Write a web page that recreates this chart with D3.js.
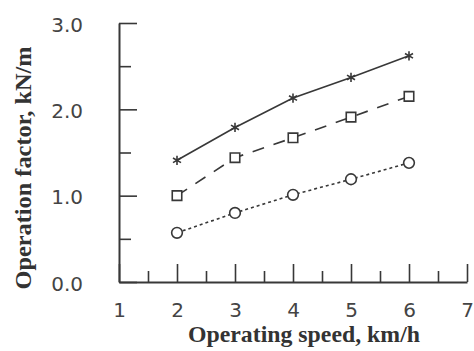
<!DOCTYPE html>
<html>
<head>
<meta charset="utf-8">
<script src="https://cdn.jsdelivr.net/npm/d3@7"></script>
<style>
  html, body { margin: 0; padding: 0; background: #fff; }
  #chart { width: 474px; height: 351px; }
</style>
</head>
<body>
<div id="chart"></div>
<script>
// values
const speeds = [2, 3, 4, 5, 6];
const starVals = [1.41, 1.79, 2.13, 2.37, 2.62];
const squareVals = [1.00, 1.44, 1.67, 1.91, 2.15];
const circleVals = [0.57, 0.80, 1.01, 1.19, 1.38];

const xMajor = [1, 2, 3, 4, 5, 6, 7];
const xMinor = [1.5, 2.5, 3.5, 4.5, 5.5, 6.5];
const yMajor = [0, 1, 2, 3];
const yMinor = [0.5, 1.5, 2.5];

const xTitle = 'Operating speed, km/h';
const yTitle = 'Operation factor, kN/m';

(function() {
  const width = 474;
  const height = 351;
  const ink = '#383838';

  const svg = d3.select('#chart')
    .append('svg')
    .attr('width', width)
    .attr('height', height);

  svg.append('rect')
    .attr('width', width)
    .attr('height', height)
    .attr('fill', '#fff');

  const x = d3.scaleLinear().domain([1, 7]).range([119, 467]);
  const y = d3.scaleLinear().domain([0, 3]).range([282, 23]);

  // axes, ticks pointing inward
  const gx = svg.append('g').attr('transform', `translate(0,${y(0)})`);
  gx.call(d3.axisBottom(x).tickValues(xMajor).tickSize(-18).tickSizeOuter(0)
    .tickPadding(21).tickFormat(d3.format('d')));
  const gxm = svg.append('g').attr('transform', `translate(0,${y(0)})`);
  gxm.call(d3.axisBottom(x).tickValues(xMinor).tickSize(-11).tickSizeOuter(0).tickFormat(''));

  const gy = svg.append('g').attr('transform', `translate(${x(1)},0)`);
  gy.call(d3.axisLeft(y).tickValues(yMajor).tickSize(-18).tickSizeOuter(0)
    .tickPadding(36).tickFormat(d3.format('.1f')));
  const gym = svg.append('g').attr('transform', `translate(${x(1)},0)`);
  gym.call(d3.axisLeft(y).tickValues(yMinor).tickSize(-12).tickSizeOuter(0).tickFormat(''));

  svg.selectAll('.domain').attr('stroke', ink).attr('stroke-width', 2);
  gxm.select('.domain').remove();
  gym.select('.domain').remove();
  svg.selectAll('.tick line').attr('stroke', ink).attr('stroke-width', 1.6);
  svg.selectAll('.tick text')
    .attr('font-family', 'DejaVu Sans, sans-serif')
    .attr('font-size', '20px')
    .attr('fill', '#444');
  gy.selectAll('.tick text').attr('dy', '0.4em');

  // axis titles
  svg.append('text')
    .attr('x', 304)
    .attr('y', 342)
    .attr('text-anchor', 'middle')
    .attr('font-family', 'Liberation Serif, serif')
    .attr('font-weight', 'bold')
    .attr('font-size', '23px')
    .attr('fill', '#333')
    .attr('textLength', 232)
    .attr('lengthAdjust', 'spacingAndGlyphs')
    .text(xTitle);

  svg.append('text')
    .attr('transform', 'translate(31,168) rotate(-90)')
    .attr('text-anchor', 'middle')
    .attr('font-family', 'Liberation Serif, serif')
    .attr('font-weight', 'bold')
    .attr('font-size', '23px')
    .attr('fill', '#333')
    .attr('textLength', 243)
    .attr('lengthAdjust', 'spacingAndGlyphs')
    .text(yTitle);

  const series = [
    { vals: starVals, dash: null, symbol: d3.symbolAsterisk, size: 60, fill: 'none' },
    { vals: squareVals, dash: '12,10', symbol: d3.symbolSquare, size: 90, fill: '#fff' },
    { vals: circleVals, dash: '3,3', symbol: d3.symbolCircle, size: 90, fill: '#fff' }
  ];

  const line = d3.line().x(d => x(d[0])).y(d => y(d[1]));

  series.forEach(s => {
    const pts = speeds.map((v, i) => [v, s.vals[i]]);
    svg.append('path')
      .datum(pts)
      .attr('d', line)
      .attr('fill', 'none')
      .attr('stroke', ink)
      .attr('stroke-width', 1.6)
      .attr('stroke-dasharray', s.dash);

    svg.selectAll(null)
      .data(pts)
      .enter()
      .append('path')
      .attr('transform', d => `translate(${x(d[0])},${y(d[1])})`)
      .attr('d', d3.symbol().type(s.symbol).size(s.size))
      .attr('fill', s.fill)
      .attr('stroke', ink)
      .attr('stroke-width', 1.6);
  });
})();
</script>
</body>
</html>
